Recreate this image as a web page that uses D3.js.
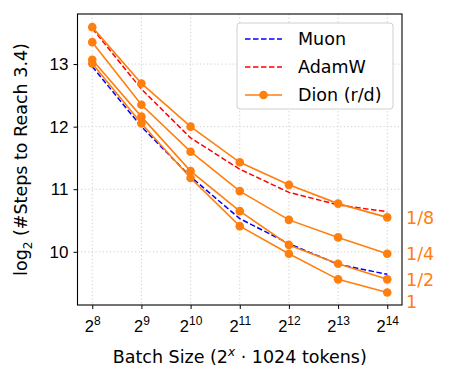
<!DOCTYPE html>
<html>
<head>
<meta charset="utf-8">
<script src="https://cdn.jsdelivr.net/npm/d3@7"></script>
<style>
  body { margin: 0; background: #fff; }
  svg { font-family: "DejaVu Sans", sans-serif; }
</style>
</head>
<body>
<svg id="chart" width="449" height="377"></svg>
<script>
// batch size exponents (2^x * 1024 tokens)
var xExp = [8, 9, 10, 11, 12, 13, 14];
var yTicks = [10, 11, 12, 13];

// log2(#steps to reach 3.4)
var muon  = [12.96, 12.0, 11.2, 10.53, 10.13, 9.80, 9.64];
var adamw = [13.57, 12.6, 11.82, 11.32, 10.95, 10.75, 10.64];

var dionRanks = ["1/8", "1/4", "1/2", "1"];
var dion18 = [13.59, 12.69, 12.0, 11.43, 11.07, 10.77, 10.55];
var dion14 = [13.35, 12.35, 11.60, 10.97, 10.51, 10.23, 9.97];
var dion12 = [13.07, 12.16, 11.29, 10.65, 10.11, 9.81, 9.56];
var dion1  = [13.01, 12.05, 11.18, 10.41, 9.97, 9.56, 9.35];
var dionSeries = [dion18, dion14, dion12, dion1];

var margin = {top: 14, right: 47, bottom: 72, left: 77.5};
var width = 449 - margin.left - margin.right;
var height = 377 - margin.top - margin.bottom;

var svg = d3.select("#chart")
  .append("g")
    .attr("transform", "translate(" + margin.left + "," + margin.top + ")");

var x = d3.scaleLinear().domain([7.7, 14.3]).range([0, width]);
var y = d3.scaleLinear().domain([9.15, 13.80]).range([height, 0]);

var ORANGE = "#ff7f0e";

// grid
svg.append("g")
  .selectAll("line")
  .data(xExp)
  .enter().append("line")
    .attr("x1", function(d) { return x(d); })
    .attr("x2", function(d) { return x(d); })
    .attr("y1", 0)
    .attr("y2", height)
    .attr("stroke", "#c8c8c8")
    .attr("stroke-width", 0.9)
    .attr("stroke-dasharray", "1.2,2.4");
svg.append("g")
  .selectAll("line")
  .data(yTicks)
  .enter().append("line")
    .attr("x1", 0)
    .attr("x2", width)
    .attr("y1", function(d) { return y(d); })
    .attr("y2", function(d) { return y(d); })
    .attr("stroke", "#c8c8c8")
    .attr("stroke-width", 0.9)
    .attr("stroke-dasharray", "1.2,2.4");

// axes
var xAxis = svg.append("g")
  .attr("transform", "translate(0," + height + ")")
  .call(d3.axisBottom(x).tickValues(xExp).tickSize(4).tickFormat(""));
xAxis.select(".domain").remove();
xAxis.selectAll(".tick line").attr("stroke", "#000").attr("stroke-width", 1);

var xl = xAxis.selectAll(".tick").append("text")
  .attr("fill", "#000")
  .attr("y", 27)
  .attr("text-anchor", "middle")
  .attr("font-size", 16.5);
xl.append("tspan").text("2");
xl.append("tspan")
  .attr("dy", -7.5)
  .attr("font-size", 12)
  .text(function(d) { return d; });

var yAxis = svg.append("g")
  .call(d3.axisLeft(y).tickValues(yTicks).tickSize(4).tickPadding(5).tickFormat(d3.format("d")));
yAxis.select(".domain").remove();
yAxis.selectAll(".tick line").attr("stroke", "#000").attr("stroke-width", 1);
yAxis.selectAll(".tick text").attr("font-size", 17).attr("fill", "#000");

// lines
var line = d3.line()
  .x(function(d, i) { return x(xExp[i]); })
  .y(function(d) { return y(d); });

svg.append("path")
  .datum(muon)
  .attr("fill", "none")
  .attr("stroke", "#0000ff")
  .attr("stroke-width", 1.5)
  .attr("stroke-dasharray", "5.5,2.5")
  .attr("d", line);

svg.append("path")
  .datum(adamw)
  .attr("fill", "none")
  .attr("stroke", "#ff0000")
  .attr("stroke-width", 1.5)
  .attr("stroke-dasharray", "5.5,2.5")
  .attr("d", line);

var dg = svg.append("g")
  .selectAll("g")
  .data(dionSeries)
  .enter().append("g");

dg.append("path")
  .attr("fill", "none")
  .attr("stroke", ORANGE)
  .attr("stroke-width", 1.6)
  .attr("d", line);

dg.selectAll("circle")
  .data(function(d) { return d; })
  .enter().append("circle")
    .attr("cx", function(d, i) { return x(xExp[i]); })
    .attr("cy", function(d) { return y(d); })
    .attr("r", 4.3)
    .attr("fill", ORANGE);

// rank labels at right end, pushed apart if crowded
var prevY = -Infinity;
dionSeries.forEach(function(s, k) {
  var ly = Math.max(y(s[s.length - 1]), prevY + 22);
  prevY = ly;
  svg.append("text")
    .attr("x", width + 4)
    .attr("y", ly)
    .attr("dy", "0.36em")
    .attr("font-size", 17.5)
    .attr("fill", ORANGE)
    .text(dionRanks[k]);
});

// frame
svg.append("rect")
  .attr("width", width)
  .attr("height", height)
  .attr("fill", "none")
  .attr("stroke", "#000")
  .attr("stroke-width", 1.1);

// legend
var legend = svg.append("g")
  .attr("transform", "translate(" + (width - 165) + ",9)");
legend.append("rect")
  .attr("width", 156)
  .attr("height", 86)
  .attr("rx", 3)
  .attr("fill", "#fff")
  .attr("fill-opacity", 0.9)
  .attr("stroke", "#d0d0d0")
  .attr("stroke-width", 1);

var legendItems = [
  {name: "Muon", color: "#0000ff", dash: "5.5,2.5", marker: false},
  {name: "AdamW", color: "#ff0000", dash: "5.5,2.5", marker: false},
  {name: "Dion (r/d)", color: ORANGE, dash: null, marker: true}
];
var li = legend.selectAll("g.item")
  .data(legendItems)
  .enter().append("g")
    .attr("class", "item")
    .attr("transform", function(d, i) { return "translate(0," + (16 + i * 28) + ")"; });
li.append("line")
  .attr("x1", 8)
  .attr("x2", 45)
  .attr("stroke", function(d) { return d.color; })
  .attr("stroke-width", 1.6)
  .attr("stroke-dasharray", function(d) { return d.dash; });
li.filter(function(d) { return d.marker; })
  .append("circle")
    .attr("cx", 26.5)
    .attr("r", 4.3)
    .attr("fill", ORANGE);
li.append("text")
  .attr("x", 61)
  .attr("dy", "0.36em")
  .attr("font-size", 17.5)
  .attr("fill", "#000")
  .text(function(d) { return d.name; });

// axis labels
var xlab = svg.append("text")
  .attr("x", width / 2)
  .attr("y", height + 58)
  .attr("text-anchor", "middle")
  .attr("font-size", 17.5)
  .attr("fill", "#000");
xlab.append("tspan").text("Batch Size (2");
xlab.append("tspan").attr("dy", -7).attr("font-size", 12).attr("font-style", "italic").text("x");
xlab.append("tspan").attr("dy", 7).text(" \u00b7 1024 tokens)");

var ylab = svg.append("text")
  .attr("transform", "translate(-51," + (height / 2) + ") rotate(-90)")
  .attr("text-anchor", "middle")
  .attr("font-size", 17.5)
  .attr("fill", "#000");
ylab.append("tspan").text("log");
ylab.append("tspan").attr("dy", 5).attr("font-size", 12).text("2");
ylab.append("tspan").attr("dy", -5).text(" (#Steps to Reach 3.4)");
</script>
</body>
</html>
